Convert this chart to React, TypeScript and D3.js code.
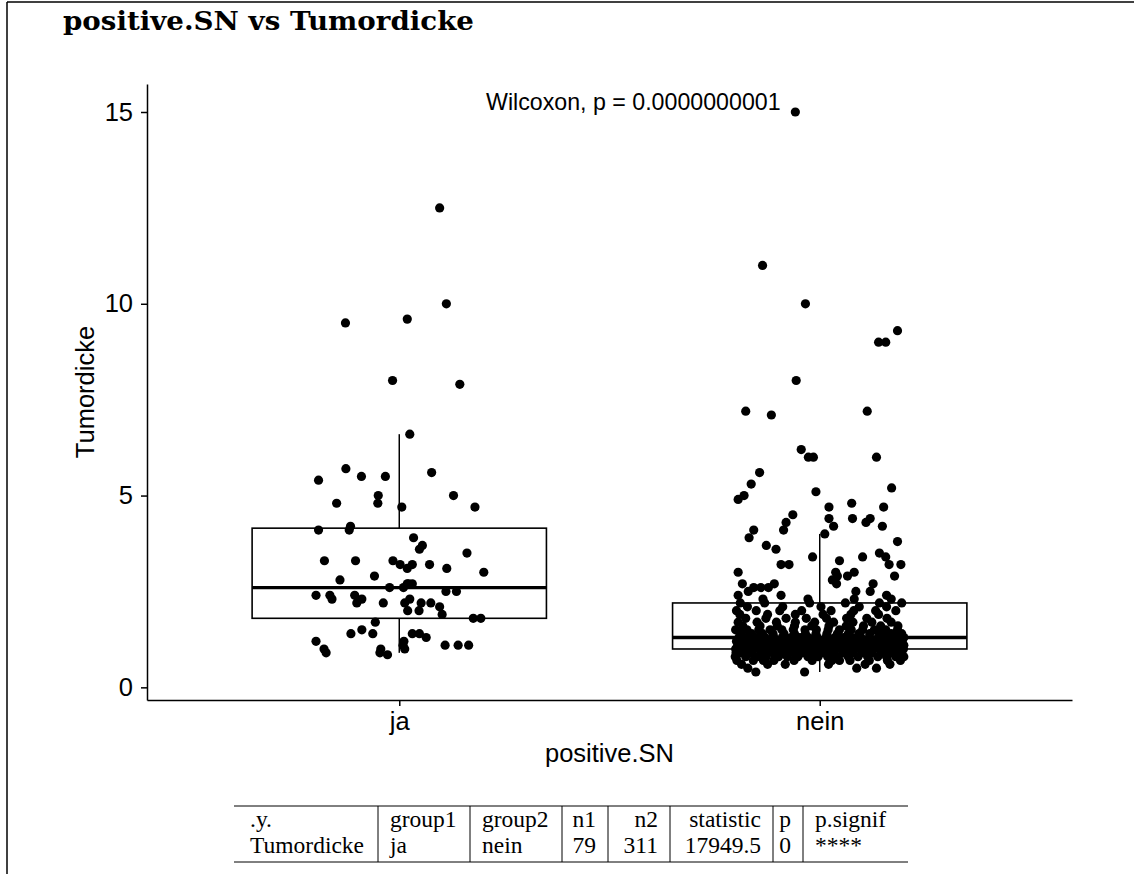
import React, { useEffect, useRef } from "react";
import * as d3 from "d3";

// categories + axis ticks
const groups = ["ja", "nein"];
const yTicks = [0, 5, 10, 15];

// box stats: [lower whisker, q1, median, q3, upper whisker]
const jaBox = [0.9, 1.8, 2.6, 4.15, 6.6];
const neinBox = [0.4, 1.0, 1.3, 2.2, 4.0];

// ja points (value + horizontal jitter in category units)
const jaValues = [
  12.5, 10.0, 9.6, 9.5, 8.0, 7.9, 6.6, 5.7, 5.4, 5.5,
  5.5, 5.6, 5.0, 5.0, 4.8, 4.8, 4.7, 4.7, 4.1, 4.2,
  4.1, 3.9, 3.7, 3.6, 3.5, 3.3, 3.3, 3.3, 3.2, 3.1,
  3.2, 3.2, 3.1, 3.0, 2.8, 2.9, 2.6, 2.6, 2.7, 2.7,
  2.5, 2.5, 2.4, 2.4, 2.3, 2.4, 2.3, 2.2, 2.2, 2.2,
  2.3, 2.2, 2.2, 2.1, 2.0, 2.0, 1.9, 1.8, 1.8, 1.7,
  1.4, 1.5, 1.4, 1.4, 1.4, 1.3, 1.2, 1.2, 1.0, 0.9,
  1.0, 0.9, 0.85, 1.0, 1.1, 1.1, 1.1, 1.1, 2.7,
];
const jaJitter = [
  0.096, 0.112, 0.019, -0.128, -0.016, 0.144, 0.025, -0.127, -0.192, -0.09,
  -0.033, 0.077, -0.05, 0.129, -0.149, -0.051, 0.006, 0.18, -0.192, -0.116,
  -0.119, 0.034, 0.055, 0.048, 0.161, -0.178, -0.104, -0.015, 0.002, 0.019,
  0.031, 0.072, 0.113, 0.201, -0.141, -0.059, -0.023, 0.01, 0.019, 0.031,
  0.111, 0.136, -0.198, -0.165, -0.16, -0.106, -0.089, -0.101, -0.038, 0.013,
  0.025, 0.052, 0.075, 0.096, 0.02, 0.047, 0.102, 0.176, 0.194, -0.057,
  -0.115, -0.089, -0.063, 0.031, 0.048, 0.064, 0.011, -0.198, -0.179, -0.174,
  -0.044, -0.046, -0.028, 0.013, 0.109, 0.14, 0.165, 0.009, 0.022,
];

// nein, the spread-out points above the box
const neinUpperValues = [
  15.0, 11.0, 10.0, 9.3, 9.0, 9.0, 8.0, 7.2, 7.1, 7.2, 6.2, 6.0, 6.0, 6.0, 5.6, 5.3, 5.1, 5.2,
  4.9, 5.0, 4.7, 4.8, 4.7, 4.5, 4.3, 4.1, 4.4, 4.2, 4.4, 4.3, 4.4, 4.2, 4.1, 3.9, 4.0, 3.8,
  3.7, 3.6, 3.5, 3.4, 3.2, 3.2, 3.4, 3.4, 3.3, 3.2, 3.2, 2.9, 3.0, 2.8, 2.9, 2.9, 3.0, 2.7,
  2.7, 3.0, 2.7, 2.6, 2.6, 2.6, 2.7, 2.4, 2.3, 2.5, 2.3, 2.4, 2.2, 2.4, 2.2,
  2.5, 2.3, 2.5, 2.3,
];
const neinUpperJitter = [
  -0.058, -0.136, -0.034, 0.185, 0.14, 0.157, -0.056, -0.176, -0.115, 0.113, -0.044, -0.027, -0.015, 0.135, -0.143, -0.163, -0.009, 0.171,
  -0.194, -0.18, 0.022, 0.076, 0.152, -0.064, -0.08, -0.086, 0.022, 0.033, 0.078, 0.11, 0.12, 0.149, -0.157, -0.168, 0.012, 0.185,
  -0.127, -0.104, 0.142, 0.157, 0.165, 0.193, 0.102, -0.017, 0.047, -0.092, -0.073, 0.178, 0.038, 0.03, 0.042, 0.066, 0.082, 0.04,
  0.127, -0.194, -0.184, -0.157, -0.14, -0.122, -0.108, -0.092, -0.028, 0.086, 0.082, 0.159, 0.142, -0.194, -0.189,
  -0.17, -0.135, 0.12, 0.17,
];

// nein, the dense cluster: one value level per row, jitter of every dot at that level
const neinLowLevels = [0.4, 0.5, 0.6, 0.7, 0.8, 0.9, 1.0, 1.1, 1.2, 1.3, 1.4, 1.5, 1.6, 1.7, 1.8, 1.9, 2.0, 2.1, 2.2];
const neinLowJitter = [
  [-0.152, -0.036],
  [0.135, -0.171, 0.088],
  [-0.186, -0.082, 0.021, 0.108, 0.167, -0.124],
  [-0.197, -0.158, -0.109, -0.061, -0.018, 0.029, 0.072, 0.118, 0.161, 0.192, -0.134, 0.047],
  [-0.201, -0.176, -0.149, -0.127, -0.098, -0.077, -0.052, -0.028, -0.004, 0.019, 0.043, 0.068, 0.091, 0.114, 0.138, 0.159, 0.181, 0.2],
  [-0.188, -0.163, -0.139, -0.112, -0.087, -0.063, -0.041, -0.013, 0.008, 0.034, 0.057, 0.079, 0.103, 0.124, 0.147, 0.171, 0.193, -0.199],
  [-0.2, -0.185, -0.171, -0.157, -0.141, -0.127, -0.113, -0.098, -0.084, -0.069, -0.053, -0.039, -0.024, -0.009, 0.006, 0.021, 0.037, 0.052, 0.066, 0.081, 0.097, 0.111, 0.126, 0.142, 0.156, 0.172, 0.186, 0.199],
  [-0.195, -0.178, -0.16, -0.143, -0.126, -0.108, -0.091, -0.073, -0.056, -0.039, -0.021, -0.004, 0.013, 0.031, 0.048, 0.066, 0.083, 0.101, 0.118, 0.136, 0.153, 0.171, 0.188, 0.2],
  [-0.198, -0.182, -0.166, -0.151, -0.135, -0.119, -0.103, -0.088, -0.072, -0.056, -0.04, -0.025, -0.009, 0.007, 0.023, 0.038, 0.054, 0.07, 0.086, 0.101, 0.117, 0.133, 0.149, 0.164, 0.18, 0.196],
  [-0.192, -0.171, -0.151, -0.13, -0.109, -0.089, -0.068, -0.047, -0.027, -0.006, 0.015, 0.036, 0.056, 0.077, 0.098, 0.118, 0.139, 0.16, 0.18, 0.2],
  [-0.187, -0.162, -0.136, -0.111, -0.085, -0.06, -0.034, -0.009, 0.017, 0.042, 0.068, 0.093, 0.119, 0.144, 0.17, 0.195],
  [-0.2, -0.173, -0.145, -0.118, -0.09, -0.063, -0.035, -0.008, 0.02, 0.047, 0.075, 0.102, 0.13, 0.157, 0.185],
  [-0.183, -0.142, -0.101, -0.06, -0.019, 0.022, 0.063, 0.104, 0.145, 0.186],
  [-0.194, -0.149, -0.103, -0.058, -0.012, 0.033, 0.079, 0.124, 0.17],
  [-0.176, -0.128, -0.08, -0.032, 0.016, 0.064, 0.112, 0.16],
  [-0.19, -0.124, -0.058, 0.008, 0.074, 0.14],
  [-0.198, -0.151, -0.095, -0.043, 0.027, 0.081, 0.133, 0.181],
  [-0.172, -0.088, 0.003, 0.094, 0.159],
  [-0.131, -0.024, 0.061, 0.195],
];

// wilcoxon result table
const tableHeader = [".y.", "group1", "group2", "n1", "n2", "statistic", "p", "p.signif"];
const tableRow = ["Tumordicke", "ja", "nein", "79", "311", "17949.5", "0", "****"];

const titleText = "positive.SN vs Tumordicke";
const pLabel = "Wilcoxon, p = 0.0000000001";

export default function App() {
  const ref = useRef<SVGSVGElement>(null);

  useEffect(() => {
    const svg = d3.select(ref.current);
    svg.selectAll("*").remove();

    const sans = "'Liberation Sans', Arial, Helvetica, sans-serif";
    const serif = "'Liberation Serif', 'Times New Roman', serif";
    const fs = 25.5;

    const x = d3.scaleLinear().domain([0.4, 2.6]).range([147, 1072]);
    const y = d3.scaleLinear().domain([-0.33, 15.73]).range([700, 84]);

    // outer frame (left + top edge)
    svg.append("line").attr("x1", 7).attr("x2", 7).attr("y1", 2).attr("y2", 874)
      .attr("stroke", "#000").attr("stroke-width", 1.5);
    svg.append("line").attr("x1", 7).attr("x2", 1134).attr("y1", 2).attr("y2", 2)
      .attr("stroke", "#000").attr("stroke-width", 1.5);

    svg.append("text").text(titleText)
      .attr("x", 63).attr("y", 30)
      .attr("font-family", "'DejaVu Serif', serif").attr("font-weight", "bold")
      .attr("font-size", 25.5).attr("textLength", 411).attr("lengthAdjust", "spacingAndGlyphs");

    // boxes
    const boxes = [jaBox, neinBox];
    const bg = svg.append("g");
    boxes.forEach((b, i) => {
      const pos = i + 1;
      const [lo, q1, med, q3, hi] = b;
      bg.append("line").attr("x1", x(pos)).attr("x2", x(pos)).attr("y1", y(q3)).attr("y2", y(hi))
        .attr("stroke", "#000").attr("stroke-width", 1.5);
      bg.append("line").attr("x1", x(pos)).attr("x2", x(pos)).attr("y1", y(q1)).attr("y2", y(lo))
        .attr("stroke", "#000").attr("stroke-width", 1.5);
      bg.append("rect")
        .attr("x", x(pos - 0.35)).attr("width", x(pos + 0.35) - x(pos - 0.35))
        .attr("y", y(q3)).attr("height", y(q1) - y(q3))
        .attr("fill", "#fff").attr("stroke", "#000").attr("stroke-width", 1.6);
      bg.append("line").attr("x1", x(pos - 0.35)).attr("x2", x(pos + 0.35)).attr("y1", y(med)).attr("y2", y(med))
        .attr("stroke", "#000").attr("stroke-width", 3.4);
    });

    // jittered points
    const pts: { g: number; j: number; v: number }[] = [];
    jaValues.forEach((v, i) => pts.push({ g: 1, j: jaJitter[i], v }));
    neinUpperValues.forEach((v, i) => pts.push({ g: 2, j: neinUpperJitter[i], v }));
    neinLowLevels.forEach((v, k) => neinLowJitter[k].forEach(j => pts.push({ g: 2, j, v })));

    svg.append("g").selectAll("circle").data(pts).join("circle")
      .attr("cx", d => x(d.g + d.j)).attr("cy", d => y(d.v))
      .attr("r", 4.6).attr("fill", "#000");

    // axes
    const yAxis = svg.append("g").attr("transform", `translate(${x(0.4)},0)`)
      .call(d3.axisLeft(y).tickValues(yTicks).tickSize(6).tickSizeOuter(0).tickPadding(8));
    const xAxis = svg.append("g").attr("transform", `translate(0,${y(-0.33)})`)
      .call(d3.axisBottom(x).tickValues([1, 2]).tickFormat((d, i) => groups[i]).tickSize(6).tickSizeOuter(0).tickPadding(6));
    [yAxis, xAxis].forEach(a => {
      a.selectAll("path,line").attr("stroke", "#000").attr("stroke-width", 1.5);
      a.selectAll("text").attr("font-family", sans).attr("font-size", fs).attr("fill", "#000");
    });

    svg.append("text").text("positive.SN")
      .attr("x", (x(0.4) + x(2.6)) / 2).attr("y", 762).attr("text-anchor", "middle")
      .attr("font-family", sans).attr("font-size", fs);
    svg.append("text").text("Tumordicke")
      .attr("transform", `translate(94,${(y(-0.33) + y(15.73)) / 2}) rotate(-90)`)
      .attr("text-anchor", "middle").attr("font-family", sans).attr("font-size", fs);

    svg.append("text").text(pLabel)
      .attr("x", 486).attr("y", 110)
      .attr("font-family", sans).attr("font-size", 23.2);

    // table under the plot
    const colEdges = [238, 378, 470, 562, 608, 670, 773, 803, 908];
    const colAlign = ["start", "start", "start", "end", "end", "end", "end", "start"];
    const tTop = 806, tBottom = 862;
    const rowBase = [827, 853];
    const tg = svg.append("g");
    [tTop, tBottom].forEach(yy => tg.append("line")
      .attr("x1", colEdges[0] - 4).attr("x2", colEdges[colEdges.length - 1]).attr("y1", yy).attr("y2", yy)
      .attr("stroke", "#000").attr("stroke-width", 1));
    colEdges.slice(1, -1).forEach(xx => tg.append("line")
      .attr("x1", xx).attr("x2", xx).attr("y1", tTop).attr("y2", tBottom)
      .attr("stroke", "#000").attr("stroke-width", 1));
    [tableHeader, tableRow].forEach((row, r) => {
      row.forEach((txt, c) => {
        const a = colAlign[c];
        const xx = a === "start" ? colEdges[c] + 12 : colEdges[c + 1] - 12;
        tg.append("text").text(txt)
          .attr("x", xx).attr("y", rowBase[r]).attr("text-anchor", a)
          .attr("font-family", serif).attr("font-size", 23.5);
      });
    });
  }, []);

  return (
    <svg ref={ref} width={1134} height={874}
      style={{ position: "absolute", left: 0, top: 0, background: "#fff" }} />
  );
}
